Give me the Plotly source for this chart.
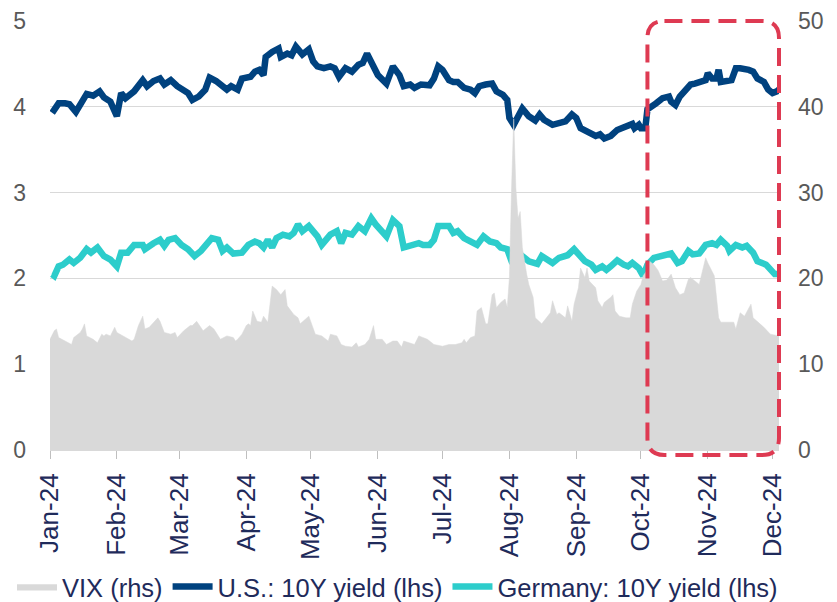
import pandas as pd
import plotly.graph_objects as go

# ---------------- data (x = days since 2024-01-01) ----------------
BASE_DATE = "2024-01-01"
END_DATE = "2024-12-04"

vix_days = [0, 2, 3, 4, 7, 10, 11, 14, 15, 16, 17, 20, 22, 24, 25, 26, 28, 30, 31, 34,
            38, 39, 41, 43, 44, 46, 48, 50, 51, 53, 56, 58, 59, 62, 65, 66, 68, 71, 74, 76,
            79, 82, 85, 86,
            87, 89, 91, 92, 93, 94, 96, 98, 99, 101, 103, 105, 107, 109, 110, 113, 115, 116, 120, 121,
            123, 126, 129, 130, 133, 135, 137, 140, 142, 143, 146, 148, 150, 151, 154, 156, 159, 161, 163, 164,
            167, 169, 171,
            175, 178, 182, 185, 188, 191, 192, 193, 195, 197, 198, 200, 202, 203, 205, 206, 207, 209, 211, 212,
            213, 214, 215, 216, 217, 218, 219, 221, 222, 224, 225, 228, 229, 232, 233, 235, 236, 239, 240, 242,
            243, 245, 246, 248, 249, 250, 253, 254, 256, 257,
            260, 261, 262, 264, 267, 269, 270, 272, 274, 275, 277, 278, 280, 282, 284, 286, 288, 290, 292, 294,
            296, 297, 299, 301, 304, 305, 308, 310, 311, 314, 317, 318, 320, 322, 325, 326, 328, 331, 334, 338]
vix_level = [12.9, 13.9, 14.1, 13.1, 12.7, 12.3, 13.1, 13.7, 14.1, 14.7, 13.3, 12.9, 12.5, 13.5, 13.3, 13.5, 13.3, 14.3, 13.7, 13.3,
             12.7, 12.9, 14.5, 15.6, 14.1, 14.3, 14.9, 15.4, 15.0, 13.7, 13.5, 13.7, 13.1, 13.9, 14.5, 14.5, 15.0, 13.9, 14.5, 14.1,
             12.9, 13.3, 13.1, 12.7,
             12.9, 13.5, 14.5, 14.7, 14.5, 16.2, 15.0, 14.9, 15.6, 14.9, 19.1, 18.7, 18.1, 18.7, 16.8, 15.8, 15.4, 14.7, 15.6, 14.9,
             13.5, 13.3, 12.7, 13.5, 13.3, 12.3, 12.1, 12.0, 12.5, 12.0, 12.3, 12.9, 14.5, 12.9, 12.9, 12.3, 12.7, 12.7, 12.0, 12.7,
             12.5, 12.3, 13.3,
             12.9, 12.3, 12.1, 12.3, 12.3, 12.5, 12.9, 12.5, 13.1, 13.3, 16.2, 16.6, 14.7, 14.7, 18.1, 18.3, 16.6, 17.2, 17.6, 16.6,
             20.1, 30.5, 38.6, 30.5, 27.0, 27.8, 23.6, 20.5, 19.3, 17.8, 15.4, 14.7, 15.0, 16.0, 17.4, 15.8, 16.0, 15.4, 16.8, 15.0,
             17.0, 18.9, 21.2, 20.1, 21.2, 19.7, 18.9, 17.4, 16.6, 17.2,
             17.8, 18.1, 16.2, 15.6, 15.4, 15.4, 17.0, 18.5, 19.3, 20.3, 21.0, 22.0, 21.6, 20.9, 19.7, 19.8, 20.5, 18.9, 18.1, 18.3,
             19.9, 20.1, 19.7, 19.3, 22.4, 21.8, 20.3, 15.4, 14.9, 14.9, 14.9, 14.1, 16.0, 15.6, 17.0, 15.4, 15.0, 14.3, 13.5, 13.3]

us_days = [1, 4, 7, 9, 12, 14, 17, 20, 23, 25, 28, 31, 33, 35, 39, 43, 45, 48, 51, 53,
           56, 59, 62, 64, 66, 69, 72, 74, 77, 80, 82, 84, 86,
           87, 89, 93, 95, 97, 99, 100, 103, 106, 107, 110, 112, 114, 117, 120, 122, 124, 127,
           130, 132, 134, 137, 140, 143, 145, 147, 150, 152, 156, 159, 162, 164, 167, 169, 172,
           176, 178, 180, 182, 185, 187, 189, 192, 195, 197, 199, 202, 205, 207, 210, 212, 213, 215,
           217, 219, 222, 225, 227, 229, 233, 236, 239, 242, 244, 246, 250, 253, 255,
           257, 260, 263, 265, 267, 270, 271, 273, 274, 276, 277, 279, 281, 284, 287, 288, 290, 292,
           294, 297, 299, 301, 304, 305, 307, 309, 310, 311, 314, 316, 318, 320, 324, 326, 328, 331,
           333, 335, 337, 338]
us_yield = [3.93, 4.04, 4.04, 4.03, 3.94, 4.03, 4.15, 4.13, 4.18, 4.11, 4.06, 3.89, 4.16, 4.10, 4.18, 4.31, 4.24, 4.30, 4.33, 4.26,
            4.31, 4.24, 4.20, 4.16, 4.08, 4.12, 4.20, 4.34, 4.30, 4.24, 4.20, 4.24, 4.20,
            4.20, 4.33, 4.35, 4.41, 4.43, 4.37, 4.58, 4.64, 4.68, 4.58, 4.62, 4.60, 4.70, 4.61, 4.67, 4.53, 4.47, 4.45,
            4.47, 4.45, 4.35, 4.45, 4.41, 4.49, 4.51, 4.62, 4.49, 4.37, 4.27, 4.47, 4.37, 4.24, 4.26, 4.22, 4.26,
            4.25, 4.33, 4.47, 4.43, 4.31, 4.29, 4.29, 4.22, 4.20, 4.16, 4.24, 4.26, 4.27, 4.18, 4.14, 4.08, 3.87, 3.79,
            3.89, 3.98, 3.89, 3.84, 3.91, 3.85, 3.79, 3.81, 3.83, 3.91, 3.87, 3.75, 3.69, 3.66, 3.68,
            3.63, 3.66, 3.73, 3.75, 3.77, 3.80, 3.75, 3.79, 3.75, 3.75, 3.97, 4.00, 4.04, 4.10, 4.12, 4.06, 4.02, 4.12,
            4.18, 4.26, 4.27, 4.29, 4.31, 4.39, 4.33, 4.33, 4.43, 4.29, 4.31, 4.31, 4.45, 4.45, 4.43, 4.41, 4.33, 4.29,
            4.20, 4.16, 4.18, 4.20]

de_days = [1, 2, 4, 6, 9, 11, 14, 17, 19, 22, 25, 28, 31, 33, 36, 39, 43, 44, 48, 51,
           53, 55, 58, 61, 64, 67, 70, 72, 75, 78, 80, 82, 85,
           89, 92, 95, 97, 99, 101, 103, 105, 108, 111, 113, 115, 117, 120, 124, 126, 130, 133, 135, 137,
           140, 143, 146, 149, 151, 154, 156, 159, 162, 164, 168, 171,
           173, 176, 178, 180, 182, 185, 187, 189, 192, 195, 198, 201, 204, 207, 209, 212, 214, 216, 219, 222,
           226, 228, 231, 233, 236, 239, 240, 243, 246, 248, 251, 253, 256,
           258, 260, 263, 266, 268, 270, 273, 275, 277, 280, 284, 288, 291, 293, 296, 298, 301, 304, 307, 309,
           311, 314, 315, 318, 321, 323, 326, 328, 332, 334, 336, 338]
de_yield = [2.05, 2.03, 2.14, 2.16, 2.22, 2.18, 2.24, 2.34, 2.30, 2.36, 2.26, 2.22, 2.14, 2.30, 2.30, 2.39, 2.39, 2.34, 2.41, 2.45,
            2.38, 2.45, 2.47, 2.39, 2.34, 2.26, 2.32, 2.39, 2.47, 2.45, 2.32, 2.36, 2.29,
            2.30, 2.39, 2.43, 2.41, 2.36, 2.45, 2.36, 2.47, 2.51, 2.49, 2.53, 2.63, 2.55, 2.61, 2.49, 2.39, 2.51, 2.55, 2.41, 2.53,
            2.51, 2.61, 2.55, 2.70, 2.63, 2.55, 2.49, 2.68, 2.61, 2.36, 2.39, 2.41,
            2.39, 2.39, 2.45, 2.61, 2.61, 2.61, 2.53, 2.55, 2.47, 2.43, 2.39, 2.49, 2.43, 2.41, 2.36, 2.34, 2.20, 2.20, 2.26, 2.20,
            2.17, 2.26, 2.22, 2.18, 2.24, 2.26, 2.27, 2.34, 2.26, 2.20, 2.16, 2.10, 2.14,
            2.10, 2.14, 2.21, 2.16, 2.14, 2.18, 2.12, 2.03, 2.16, 2.24, 2.26, 2.29, 2.18, 2.20, 2.32, 2.28, 2.29, 2.39, 2.41, 2.39,
            2.45, 2.38, 2.32, 2.39, 2.36, 2.38, 2.30, 2.20, 2.16, 2.10, 2.05, 2.05]

highlight_start = "2024-10-04"
highlight_end = "2024-12-04"

series_names = ["VIX (rhs)", "U.S.: 10Y yield (lhs)", "Germany: 10Y yield (lhs)"]


def to_dates(days):
    base = pd.Timestamp(BASE_DATE)
    return [base + pd.Timedelta(days=d) for d in days]


# ---------------- figure ----------------
NAVY = "#1F2B5B"
GRAY_TXT = "#595959"
FONT = "Liberation Sans, Arial, sans-serif"

# the page body has an 8px margin, so the figure is laid out 8px smaller/offset
W, H = 829, 594
M_L, M_R, M_T, M_B = 42, 58, 13, 152
plot_w = W - M_L - M_R
plot_h = H - M_T - M_B

fig = go.Figure()
fig.add_trace(go.Scatter(
    x=to_dates(vix_days), y=vix_level, name=series_names[0], yaxis="y2",
    mode="lines", fill="tozeroy", fillcolor="#D9D9D9",
    line=dict(color="#D9D9D9", width=0.5),
))
fig.add_trace(go.Scatter(
    x=to_dates(us_days), y=us_yield, name=series_names[1], mode="lines",
    line=dict(color="#00427F", width=6.5),
))
fig.add_trace(go.Scatter(
    x=to_dates(de_days), y=de_yield, name=series_names[2], mode="lines",
    line=dict(color="#2DCDCB", width=6.5),
))

# highlight box (rounded, dashed) in paper coordinates derived from the dates
t0 = pd.Timestamp(BASE_DATE)
t1 = pd.Timestamp(END_DATE)


def xfrac(d):
    return (pd.Timestamp(d) - t0) / (t1 - t0)


bx0, bx1 = xfrac(highlight_start), xfrac(highlight_end)
by0, by1 = -5 / plot_h, 1 + 0 / plot_h
rx, ry = 17 / plot_w, 17 / plot_h
path = (f"M {bx0 + rx},{by1} L {bx1 - rx},{by1} Q {bx1},{by1} {bx1},{by1 - ry} "
        f"L {bx1},{by0 + ry} Q {bx1},{by0} {bx1 - rx},{by0} "
        f"L {bx0 + rx},{by0} Q {bx0},{by0} {bx0},{by0 + ry} "
        f"L {bx0},{by1 - ry} Q {bx0},{by1} {bx0 + rx},{by1} Z")
fig.add_shape(type="path", path=path, xref="paper", yref="paper",
              line=dict(color="#DE3A52", width=4, dash="18px,9px"), layer="above")

fig.update_layout(
    width=W, height=H,
    margin=dict(l=M_L, r=M_R, t=M_T, b=M_B, pad=0, autoexpand=False),
    paper_bgcolor="white", plot_bgcolor="white",
    font=dict(family=FONT, size=24, color=GRAY_TXT),
    showlegend=True,
    legend=dict(orientation="h", xref="paper", x=-38 / plot_w, xanchor="left",
                yref="paper", y=-137 / plot_h, yanchor="middle",
                font=dict(size=25.5, color=NAVY, family=FONT),
                itemwidth=40, tracegroupgap=0, traceorder="normal",
                bgcolor="rgba(0,0,0,0)"),
    xaxis=dict(
        type="date", range=[BASE_DATE, END_DATE],
        tickformat="%b-%y", dtick="M1", tick0="2024-01-01",
        tickangle=-90, ticks="outside", ticklen=8, tickcolor="#BFBFBF",
        tickfont=dict(size=26, color=NAVY, family=FONT),
        ticklabelstandoff=4, ticklabeloverflow="allow",
        showgrid=False, showline=True, linecolor="#D9D9D9", linewidth=1,
        zeroline=False,
    ),
    yaxis=dict(
        range=[0, 5], tickvals=[0, 1, 2, 3, 4, 5],
        showgrid=True, gridcolor="#D9D9D9", gridwidth=1,
        zeroline=False, showline=False, ticks="",
        tickfont=dict(size=23, color=GRAY_TXT, family=FONT),
        ticklabelstandoff=23, ticklabeloverflow="allow",
    ),
    yaxis2=dict(
        range=[0, 50], tickvals=[0, 10, 20, 30, 40, 50],
        overlaying="y", side="right", showgrid=False,
        zeroline=False, showline=False, ticks="",
        tickfont=dict(size=23, color=GRAY_TXT, family=FONT),
        ticklabelstandoff=18, ticklabeloverflow="allow",
    ),
)

fig.write_html("out.html")
